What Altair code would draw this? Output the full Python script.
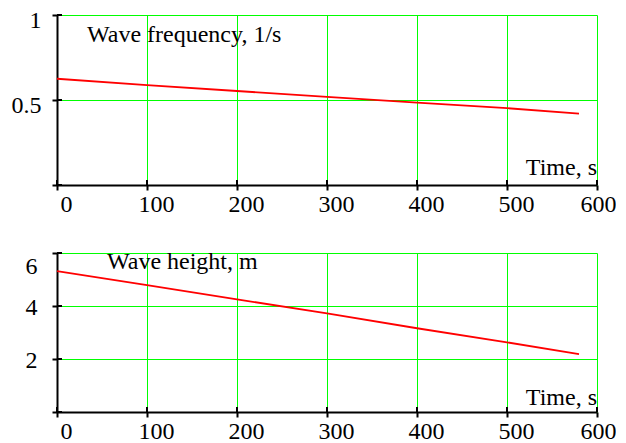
import altair as alt
import pandas as pd

time_s = [0, 100, 200, 300, 400, 500, 580]
frequency = [0.625, 0.588, 0.553, 0.518, 0.485, 0.452, 0.42]
wave_height = [5.32, 4.79, 4.25, 3.72, 3.16, 2.63, 2.18]

x_ticks = [0, 100, 200, 300, 400, 500, 600]
freq_ticks = [0, 0.5, 1]
height_ticks = [0, 2, 4, 6]

FONT = "Liberation Serif"
GREEN = "#00ff00"

df_f = pd.DataFrame({"t": time_s, "v": frequency})
df_h = pd.DataFrame({"t": time_s, "v": wave_height})
df_xt = pd.DataFrame({"t": x_ticks})


def panel(df, ymax, yticks, w, h, title, title_x, title_y, time_y, ylab_pad, ylab_dy, six_top):
    xs = alt.Scale(domain=[0, 600], nice=False, zero=False)
    ys = alt.Scale(domain=[0, ymax], nice=False, zero=False)
    x_main = alt.Axis(
        values=x_ticks, orient="bottom", title=None, labelAngle=0,
        tickSize=5, tickWidth=2, tickColor="black",
        domainColor="black", domainWidth=2,
        labelFont=FONT, labelFontSize=24, labelColor="black",
        labelPadding=2,
        labelOffset={"condition": {"test": "datum.value == 600", "value": 1}, "value": 9},
        labelFlush=False, labelOverlap=False,
        grid=True, gridColor=GREEN, gridWidth=1, gridOpacity=1,
    )
    baseline = "middle"
    if six_top:
        baseline = {"condition": {"test": f"datum.value == {ymax}", "value": "top"}, "value": "middle"}
    y_main = alt.Axis(
        values=yticks, orient="left", title=None,
        tickSize=5, tickWidth=2, tickColor="black",
        domainColor="black", domainWidth=2,
        labelFont=FONT, labelFontSize=24, labelColor="black",
        labelPadding=ylab_pad, labelOffset=ylab_dy, labelFlush=False, labelOverlap=False,
        labelBaseline=baseline,
        labelExpr="datum.value == 0 ? '' : '' + datum.value",
        minExtent=43, maxExtent=43,
        grid=True, gridColor=GREEN, gridWidth=1, gridOpacity=1,
    )

    line = alt.Chart(df).mark_line(color="#ff0000", strokeWidth=1.8).encode(
        x=alt.X("t:Q", scale=xs, axis=x_main),
        y=alt.Y("v:Q", scale=ys, axis=y_main),
    )
    # inner halves of the crossing tick marks
    xin = alt.Chart(df_xt).mark_rule(color="black", strokeWidth=2).encode(
        x=alt.X("t:Q", scale=xs), y=alt.value(h - 5), y2=alt.value(h)
    )
    yin = alt.Chart(pd.DataFrame({"v": yticks})).mark_rule(color="black", strokeWidth=2).encode(
        y=alt.Y("v:Q", scale=ys), x=alt.value(0), x2=alt.value(5)
    )
    lab = alt.Chart(pd.DataFrame({"s": [title]})).mark_text(
        font=FONT, fontSize=24, color="black", align="left", baseline="alphabetic"
    ).encode(x=alt.value(title_x), y=alt.value(title_y), text="s:N")
    tlab = alt.Chart(pd.DataFrame({"s": ["Time, s"]})).mark_text(
        font=FONT, fontSize=24, color="black", align="right", baseline="alphabetic"
    ).encode(x=alt.value(w), y=alt.value(time_y), text="s:N")
    return alt.layer(line, xin, yin, lab, tlab).properties(width=w, height=h)


top = panel(df_f, 1, freq_ticks, 540, 170, "Wave frequency, 1/s", 30, 27, 160, 11, 5, False)
bottom = panel(df_h, 6, height_ticks, 540, 159, "Wave height, m", 50, 16, 152, 15, 1, True)

chart = alt.vconcat(top, bottom, spacing=34).properties(
    padding={"left": 3, "top": 0, "right": 0, "bottom": 0}
).configure_view(strokeWidth=0)

chart.save("out.html", embed_options={"renderer": "svg", "actions": False})
